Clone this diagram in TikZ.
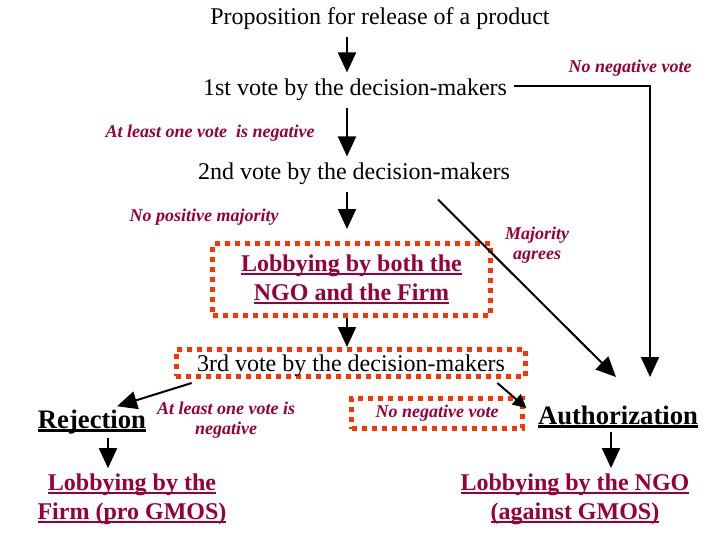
\documentclass[tikz,border=0pt]{standalone}
\usepackage{fontspec}
\setmainfont{Liberation Serif}
\usetikzlibrary{arrows.meta,calc}
\definecolor{lblred}{RGB}{153,0,51}
\definecolor{dotred}{RGB}{255,51,0}
\newcommand{\undl}[2][1.4pt]{\setbox0\hbox{#2}\leavevmode\rlap{\rule[-2.6pt]{\wd0}{#1}}\box0}
\tikzset{every picture/.style={line width=1.5pt}}
\tikzset{
stage/.style={font=\fontsize{18}{21}\selectfont, inner sep=3pt, outer sep=2pt},
lobby/.style={font=\fontsize{18}{21.75}\selectfont\bfseries, text=lblred, align=center},
verdict/.style={font=\fontsize{20}{24}\selectfont\bfseries, inner sep=2pt},
cond/.style={font=\fontsize{13.5}{15.5}\selectfont\bfseries\itshape, text=lblred, align=center, inner sep=1pt},
dotbox/.style={draw=dotred, line width=3.75pt, dash pattern=on 3.75pt off 3.75pt},
arr/.style={-{Triangle[length=15pt,width=13.5pt]}, line width=1.5pt},
smallarr/.style={-{Triangle[length=10pt,width=10pt]}, line width=1.5pt}}

\begin{document}
\begin{tikzpicture}[x=0.75pt,y=0.75pt,yscale=-1,xscale=1]
\path[use as bounding box] (0,0) rectangle (720,540);

% Helper coordinates
\coordinate (spine) at (347,0);
\coordinate (lspine) at (108,0);
\coordinate (rspine) at (611,0);
\coordinate (ruleend) at (650,377);
\coordinate (diagend) at (616,377);

% Voting stages
\node [stage] (prop) at (380,19) {Proposition for release of a product};
\node [stage] (vote1) at (355,90) {1st vote by the decision-makers};
\node [stage] (vote2) at (354,174) {2nd vote by the decision-makers};
\node [lobby, dotbox, minimum width=208pt, minimum height=54pt] (both) at (351.5,279.5)
  {\undl{Lobbying by both the}\\\undl{NGO and the Firm}};
\node [stage, dotbox, inner sep=1pt, text height=14.5pt, text depth=1.6pt,
  minimum width=262pt, minimum height=20pt] (vote3) at (351,363)
  {3rd vote by the decision-makers};

% Outcomes
\node [verdict] (rej) at (92,422) {\undl[2.2pt]{Rejection}};
\node [verdict] (auth) at (618,417) {\undl[2.2pt]{Authorization}};
\node [lobby] (firm) at (132,499) {\undl{Lobbying by the}\\\undl{Firm (pro GMOS)}};
\node [lobby] (ngo) at (575,499) {\undl{Lobbying by the NGO}\\\undl{(against GMOS)}};

% Conditions
\node [cond] (c1) at (630,68) {No negative vote};
\node [cond] (c2) at (210,133) {At least one vote\ \ is negative};
\node [cond] (c3) at (204,217) {No positive majority};
\node [cond] (c4) at (537,245) {Majority\\agrees};
\node [cond] (c5) at (226,420) {At least one vote is\\negative};
\node [cond, dotbox, text=lblred, minimum width=128pt, minimum height=22.5pt] (c6) at (437,413.5) {No negative vote};

% Connectors
\draw [arr] (prop.south -| spine) -- (vote1.north -| spine);
\draw [arr] (vote1.south -| spine) -- (vote2.north -| spine);
\draw [arr, shorten >=9pt] (vote2.south -| spine) -- (both.north -| spine);
\draw [arr] (both.south -| spine) -- (vote3.north -| spine);
\draw [arr] ([yshift=-3pt]vote1.east) -| (ruleend);
\draw [arr] ($(vote2.south)+(84,8)$) -- (diagend);
\draw [arr] ($(vote3.south west)+(18,4)$) -- ($(rej.north)+(25,0)$);
\draw [smallarr] ($(vote3.south east)+(-31,4)$) -- ($(auth.west)+(-8,-9)$);
\draw [arr] (rej.south -| lspine) -- (firm.north -| lspine);
\draw [arr] (auth.south -| rspine) -- (ngo.north -| rspine);

\end{tikzpicture}
\end{document}
